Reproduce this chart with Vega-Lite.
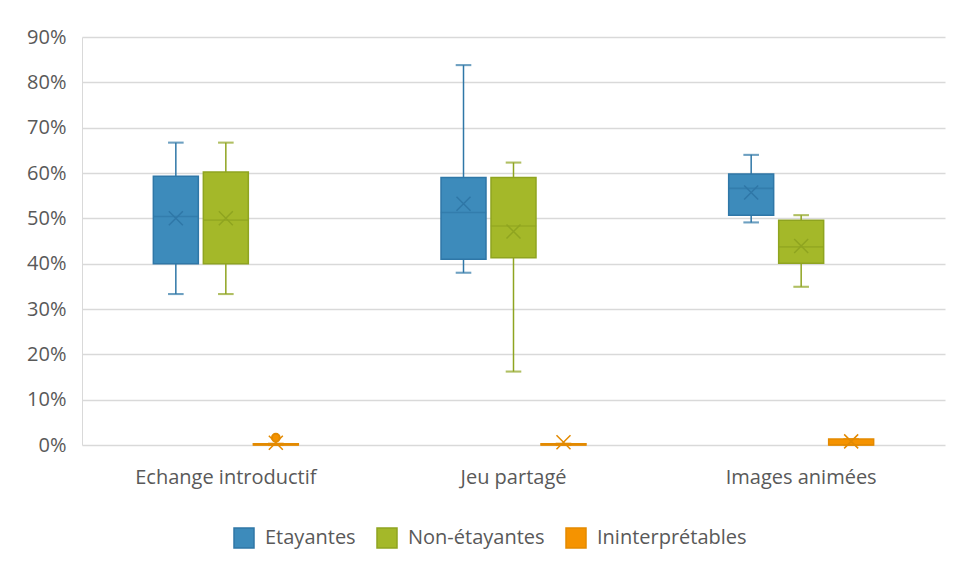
{
  "$schema": "https://vega.github.io/schema/vega-lite/v6.json",
  "width": 863,
  "height": 408,
  "autosize": "none",
  "padding": {"left": 82, "top": 37, "right": 13, "bottom": 136},
  "background": "white",
  "config": {"font": "Open Sans", "view": {"stroke": null}},
  "data": {"values": [
    {"cat": "Echange introductif", "serie": "Etayantes", "min": 0.333, "q1": 0.40, "med": 0.504, "q3": 0.593, "max": 0.667, "mean": 0.50},
    {"cat": "Echange introductif", "serie": "Non-étayantes", "min": 0.333, "q1": 0.40, "med": 0.496, "q3": 0.602, "max": 0.667, "mean": 0.50},
    {"cat": "Echange introductif", "serie": "Ininterprétables", "min": 0, "q1": 0, "med": 0, "q3": 0.003, "max": 0.003, "mean": 0.005},
    {"cat": "Jeu partagé", "serie": "Etayantes", "min": 0.38, "q1": 0.41, "med": 0.513, "q3": 0.59, "max": 0.838, "mean": 0.532},
    {"cat": "Jeu partagé", "serie": "Non-étayantes", "min": 0.162, "q1": 0.413, "med": 0.483, "q3": 0.59, "max": 0.623, "mean": 0.471},
    {"cat": "Jeu partagé", "serie": "Ininterprétables", "min": 0, "q1": 0, "med": 0, "q3": 0.003, "max": 0.003, "mean": 0.006},
    {"cat": "Images animées", "serie": "Etayantes", "min": 0.491, "q1": 0.507, "med": 0.566, "q3": 0.598, "max": 0.64, "mean": 0.557},
    {"cat": "Images animées", "serie": "Non-étayantes", "min": 0.349, "q1": 0.401, "med": 0.437, "q3": 0.496, "max": 0.507, "mean": 0.439},
    {"cat": "Images animées", "serie": "Ininterprétables", "min": 0, "q1": 0, "med": 0, "q3": 0.013, "max": 0.013, "mean": 0.008}
  ]},
  "encoding": {
    "x": {"field": "cat", "type": "nominal", "sort": ["Echange introductif", "Jeu partagé", "Images animées"],
      "scale": {"paddingInner": 0.496, "paddingOuter": 0.248},
      "axis": {"title": null, "labelAngle": 0, "labelFontSize": 20, "labelColor": "#595959", "labelLimit": 0, "ticks": false, "domain": false, "labelPadding": 22}},
    "xOffset": {"field": "serie", "type": "nominal", "sort": ["Etayantes", "Non-étayantes", "Ininterprétables"],
      "scale": {"paddingInner": 0.1, "paddingOuter": 0}}
  },
  "layer": [
    {
      "mark": {"type": "rule", "strokeWidth": 1.5},
      "encoding": {
        "y": {"field": "min", "type": "quantitative", "scale": {"domain": [0, 0.9], "nice": false},
          "axis": {"title": null, "format": "%", "values": [0, 0.1, 0.2, 0.3, 0.4, 0.5, 0.6, 0.7, 0.8, 0.9], "labelFontSize": 20, "labelColor": "#595959", "labelPadding": 16, "ticks": false, "grid": true, "gridColor": "#D9D9D9", "gridWidth": 1.3, "domain": true, "domainColor": "#D9D9D9"}},
        "y2": {"field": "max"},
        "stroke": {"field": "serie", "type": "nominal",
          "scale": {"domain": ["Etayantes", "Non-étayantes", "Ininterprétables"], "range": ["#2F77A7", "#8FA420", "#E38A00"]}}
      }
    },
    {
      "mark": {"type": "tick", "size": 14, "thickness": 0.5, "filled": false, "strokeWidth": 1.6},
      "encoding": {
        "y": {"field": "min", "type": "quantitative"},
        "stroke": {"field": "serie", "type": "nominal"}
      }
    },
    {
      "mark": {"type": "tick", "size": 14, "thickness": 0.5, "filled": false, "strokeWidth": 1.6},
      "encoding": {
        "y": {"field": "max", "type": "quantitative"},
        "stroke": {"field": "serie", "type": "nominal"}
      }
    },
    {
      "mark": {"type": "bar", "strokeWidth": 1.5},
      "encoding": {
        "y": {"field": "q1", "type": "quantitative"},
        "y2": {"field": "q3"},
        "fill": {"field": "serie", "type": "nominal",
          "scale": {"domain": ["Etayantes", "Non-étayantes", "Ininterprétables"], "range": ["#3D8BBB", "#A4B829", "#F59300"]},
          "legend": {"title": null, "orient": "none", "direction": "horizontal", "legendX": 151, "legendY": 490,
            "symbolType": "square", "symbolSize": 400, "symbolStrokeWidth": 1.5, "symbolOpacity": 1, "labelFontSize": 20, "labelColor": "#595959", "labelOffset": 10, "columnPadding": 18,
            "encode": {"symbols": {"update": {"fillOpacity": {"value": 1}, "strokeOpacity": {"value": 1}, "opacity": {"value": 1}}}}}},
        "stroke": {"field": "serie", "type": "nominal"}
      }
    },
    {
      "mark": {"type": "tick", "size": 44, "thickness": 0.3, "filled": false, "strokeWidth": 1.3},
      "encoding": {
        "y": {"field": "med", "type": "quantitative"},
        "stroke": {"field": "serie", "type": "nominal"}
      }
    },
    {
      "mark": {"type": "point", "shape": "M-1,-1L1,1M1,-1L-1,1", "size": 196, "filled": false, "strokeWidth": 1.5, "opacity": 1},
      "encoding": {
        "y": {"field": "mean", "type": "quantitative"},
        "stroke": {"field": "serie", "type": "nominal"}
      }
    },
    {
      "data": {"values": [{"cat": "Echange introductif", "serie": "Ininterprétables", "v": 0.016}]},
      "mark": {"type": "point", "filled": true, "size": 60, "opacity": 1},
      "encoding": {
        "y": {"field": "v", "type": "quantitative"},
        "fill": {"field": "serie", "type": "nominal"},
        "stroke": {"field": "serie", "type": "nominal"}
      }
    }
  ]
}
